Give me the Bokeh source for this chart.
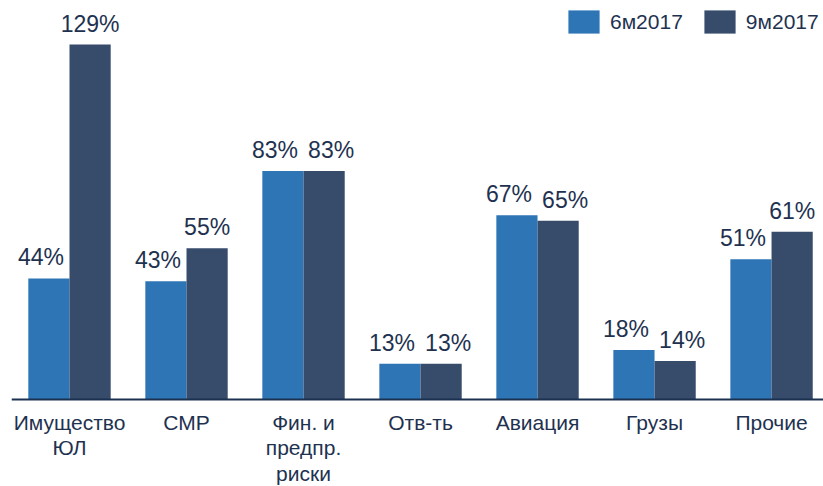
from bokeh.plotting import figure
from bokeh.models import ColumnDataSource, Range1d, Legend, LegendItem, Span
from bokeh.transform import dodge
from bokeh.core.properties import value
from bokeh.embed import file_html
from bokeh.resources import INLINE

categories = ["Имущество\nЮЛ", "СМР", "Фин. и\nпредпр.\nриски", "Отв-ть", "Авиация", "Грузы", "Прочие"]
series_names = ["6м2017", "9м2017"]
values_6m = [44, 43, 83, 13, 67, 18, 51]
values_9m = [129, 55, 83, 13, 65, 14, 61]

BLUE = "#2E75B6"
DARK = "#374B6B"
TEXT = "#1E3250"
FONT = "Liberation Sans"

# label spreading: second-series label moves right when the two labels would collide
dark_shift = [7 if abs(b - a) < 8 else 0 for a, b in zip(values_6m, values_9m)]

idx = list(range(len(categories)))
src = ColumnDataSource(dict(
    x=idx, cat=categories, a=values_6m, b=values_9m,
    la=[f"{v}%" for v in values_6m], lb=[f"{v}%" for v in values_9m],
    zero=[0] * len(idx), db=dark_shift,
))

p = figure(width=823, height=486, output_backend="svg", toolbar_location=None,
           x_range=Range1d(-0.4957, 6.444), y_range=Range1d(-31.6, 145.0),
           min_border_left=11, min_border_right=0, min_border_top=0, min_border_bottom=0)
p.axis.visible = False
p.grid.visible = False
p.outline_line_color = None

w = 0.352
ra = p.vbar(x=dodge("x", -w / 2, range=p.x_range), top="a", width=w, source=src,
            fill_color=BLUE, line_color=None)
rb = p.vbar(x=dodge("x", w / 2, range=p.x_range), top="b", width=w, source=src,
            fill_color=DARK, line_color=None)

p.add_layout(Span(location=0, dimension="width", line_color="#1B3150", line_width=2))

common = dict(text_font=value(FONT), text_color=TEXT, text_align="center")
p.text(x=dodge("x", -w / 2, range=p.x_range), y="a", text="la", source=src,
       text_baseline="alphabetic", x_offset=-8, y_offset=-21, text_font_size="23px", **common)
p.text(x=dodge("x", w / 2, range=p.x_range), y="b", text="lb", source=src,
       text_baseline="alphabetic", x_offset="db", y_offset=-21, text_font_size="23px", **common)
p.text(x="x", y="zero", text="cat", source=src, text_baseline="top", y_offset=11,
       text_font_size="21px", text_line_height=1.12, **common)

legend = Legend(items=[LegendItem(label=series_names[0], renderers=[ra]),
                       LegendItem(label=series_names[1], renderers=[rb])],
                orientation="horizontal", location=(553, 450),
                glyph_width=39, glyph_height=29, label_standoff=7, spacing=17,
                padding=0, margin=0, border_line_color=None, background_fill_alpha=0,
                label_text_font=FONT, label_text_font_size="21px", label_text_color=TEXT,
                label_height=29)
p.add_layout(legend)

open("out.html", "w").write(file_html(p, INLINE))
